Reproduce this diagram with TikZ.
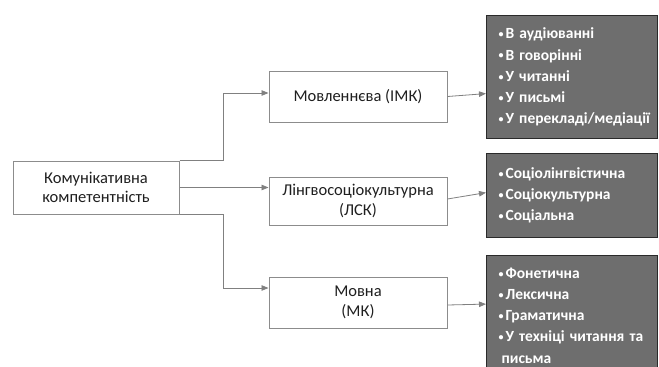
\documentclass[tikz,border=0pt]{standalone}
\usepackage{fontspec}
\setmainfont{Carlito}
\usetikzlibrary{arrows.meta}
\definecolor{linegray}{HTML}{808080}
\definecolor{boxgray}{HTML}{8C8C8C}
\definecolor{darkfill}{HTML}{6E6E6E}
\definecolor{darkborder}{HTML}{2A2A2A}
\tikzset{
  whitebox/.style={draw=boxgray, line width=1pt, fill=white, align=center,
    font=\fontsize{16.5}{19.5}\selectfont, text=black!88, inner sep=0pt},
  darkbox/.style={draw=darkborder, line width=1.2pt, fill=darkfill, align=left,
    font=\bfseries\fontsize{15.5}{21.2}\selectfont, text=white, anchor=north west,
    minimum width=171pt, text width=163pt, inner xsep=4pt, inner ysep=0pt},
  conn/.style={draw=linegray, line width=0.8pt, -{Triangle[length=7pt,width=5.5pt]}}
}
\newcommand{\bl}{\hspace*{8pt}\makebox[7pt][l]{\raisebox{1.2pt}{\fontsize{10}{10}\selectfont\textbullet}}}
\begin{document}
\begin{tikzpicture}[x=1pt,y=-1pt]
\clip (0,0) rectangle (659,367);
\fill[white] (0,0) rectangle (659,367);

\node[whitebox, minimum width=166pt, minimum height=53pt] (komp) at (96,187.5) {Комунікативна\\компетентність};
\node[whitebox, minimum width=178pt, minimum height=51pt] (mov) at (358,96.5) {Мовленнєва (ІМК)};
\node[whitebox, minimum width=178pt, minimum height=48pt] (lsk) at (358,201) {Лінгвосоціокультурна\\(ЛСК)};
\node[whitebox, minimum width=178pt, minimum height=51pt] (mk) at (358,302.5) {Мовна\\(МК)};

\node[darkbox, minimum height=123pt] (d1) at (486,15) {\bl В аудіюванні\\\bl В говорінні\\\bl У читанні\\\bl У письмі\\\bl У перекладі/медіації};
\node[darkbox, minimum height=84pt] (d2) at (486,153) {\bl Соціолінгвістична\\\bl Соціокультурна\\\bl Соціальна};
\node[darkbox, minimum height=120pt] (d3) at (486,255) {\bl Фонетична\\\bl Лексична\\\bl Граматична\\\bl У техніці читання та\\\hspace*{11pt}письма};

\coordinate (jx) at (223,0);
\draw[conn] (komp.north east) -- (komp.north east -| jx) |- ([yshift=3.5pt]mov.west);
\draw[conn] (komp.east) -- (komp.east -| lsk.west);
\draw[conn] (komp.south east) -- (komp.south east -| jx) |- ([yshift=14.5pt]mk.west);

\draw[conn] (mov.east) -- ([yshift=-16.5pt]d1.west);
\draw[conn] ([yshift=2pt]lsk.east) -- ([yshift=3pt]d2.west);
\draw[conn] ([yshift=-2.5pt]mk.east) -- ([yshift=11.5pt]d3.west);
\end{tikzpicture}
\end{document}
